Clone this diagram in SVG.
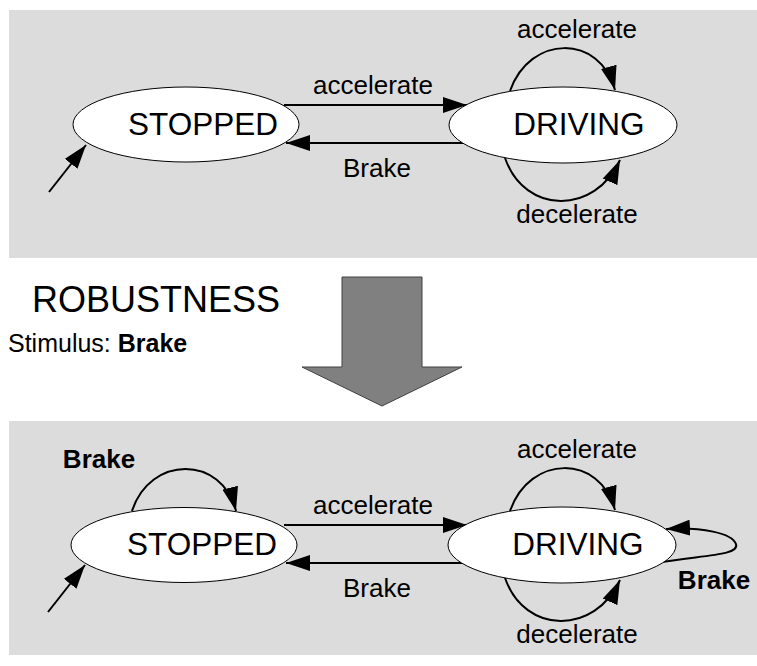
<svg xmlns="http://www.w3.org/2000/svg" width="757" height="666" viewBox="0 0 757 666">
  <style>
    .panel { fill: #dcdcdc; stroke: none; }
    .state { fill: #ffffff; stroke: #000000; stroke-width: 1; }
    .name { font-family: "Liberation Sans", Arial, sans-serif; font-size: 31.5px; fill: #000000; text-anchor: middle; }
    .lbl { font-family: "Liberation Sans", Arial, sans-serif; font-size: 26px; fill: #000000; text-anchor: middle; }
    .bold { font-weight: bold; }
    .edge { fill: none; stroke: #000000; stroke-width: 2; marker-end: url(#head); }
  </style>
  <defs>
    <marker id="head" markerUnits="userSpaceOnUse" markerWidth="24" markerHeight="16" refX="24" refY="8" orient="auto" viewBox="0 0 24 16">
      <path d="M0,0 L24,8 L0,16 Z" fill="#000000"/>
    </marker>
  </defs>

  <!-- original machine -->
  <rect class="panel" x="9" y="10" width="748" height="248"/>

  <g id="connectors-top">
    <path class="edge" d="M49,192 L86,145"/>
    <path class="edge" d="M284,105 L467,105"/>
    <path class="edge" d="M464,143 L286,143"/>
    <path class="edge" d="M510,91 C530,34 600,34 615,90"/>
    <path class="edge" d="M505,158 C525,215 595,215 620,160"/>
    <text class="lbl" x="373" y="94">accelerate</text>
    <text class="lbl" x="377" y="177">Brake</text>
    <text class="lbl" x="577" y="38">accelerate</text>
    <text class="lbl" x="577" y="223">decelerate</text>
  </g>

  <g id="stopped-top">
    <ellipse class="state" cx="186" cy="124.5" rx="113" ry="37.5"/>
    <text class="name" x="203" y="135">STOPPED</text>
  </g>
  <g id="driving-top">
    <ellipse class="state" cx="563" cy="125" rx="114" ry="38"/>
    <text class="name" x="579" y="135">DRIVING</text>
  </g>

  <!-- transformation step -->
  <g id="step">
    <text x="32" y="312" font-family="Liberation Sans, Arial, sans-serif" font-size="36px" fill="#000000">ROBUSTNESS</text>
    <text x="8" y="352" font-family="Liberation Sans, Arial, sans-serif" font-size="25px" fill="#000000">Stimulus: <tspan font-weight="bold">Brake</tspan></text>
    <polygon points="342,277 422,277 422,367 462,367 382,406 302,367 342,367" fill="#808080" stroke="#404040" stroke-width="1"/>
  </g>

  <!-- robust machine -->
  <rect class="panel" x="9" y="421" width="748" height="234"/>

  <g id="connectors-bottom">
    <path class="edge" d="M48,612 L85,565"/>
    <path class="edge" d="M284,525 L467,525"/>
    <path class="edge" d="M464,563 L286,563"/>
    <path class="edge" d="M510,511 C530,454 600,454 615,510"/>
    <path class="edge" d="M505,578 C525,635 595,635 620,580"/>
    <path class="edge" d="M132,511 C150,455 222,455 236,511"/>
    <path class="edge" d="M656,563 C700,555 740,556 736,544 C732,533 702,527 666,529"/>
    <text class="lbl" x="373" y="514">accelerate</text>
    <text class="lbl" x="377" y="597">Brake</text>
    <text class="lbl" x="577" y="458">accelerate</text>
    <text class="lbl" x="577" y="643">decelerate</text>
    <text class="lbl bold" x="99" y="468">Brake</text>
    <text class="lbl bold" x="714" y="589">Brake</text>
  </g>

  <g id="stopped-bottom">
    <ellipse class="state" cx="184" cy="545" rx="113" ry="37.5"/>
    <text class="name" x="202" y="555">STOPPED</text>
  </g>
  <g id="driving-bottom">
    <ellipse class="state" cx="562" cy="545" rx="114" ry="38"/>
    <text class="name" x="578" y="555">DRIVING</text>
  </g>
</svg>
